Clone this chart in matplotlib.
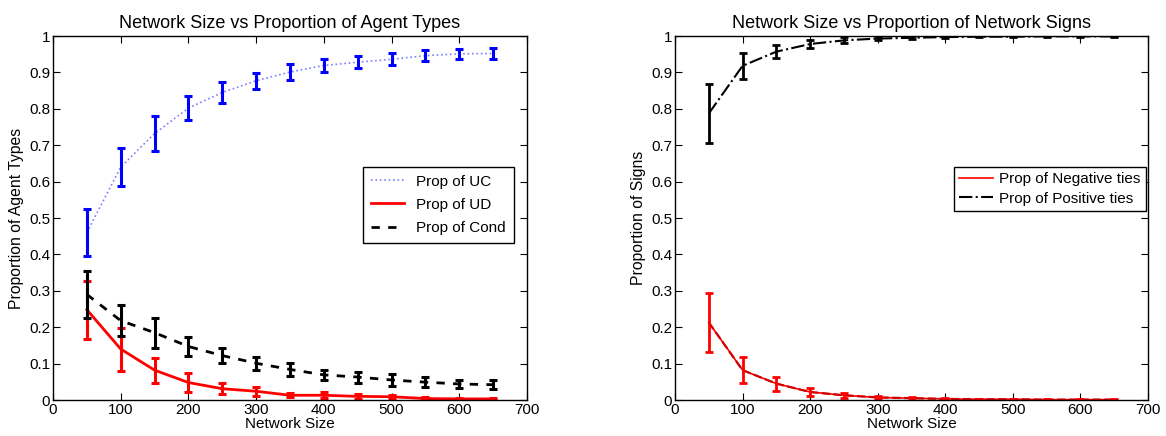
import matplotlib
matplotlib.use("Agg")
import matplotlib.pyplot as plt
from matplotlib.ticker import FuncFormatter

plt.rcParams["font.family"] = ["Liberation Sans", "DejaVu Sans"]

network_size = [50, 100, 150, 200, 250, 300, 350, 400, 450, 500, 550, 600, 650]

uc_mean = [0.46, 0.64, 0.732, 0.802, 0.845, 0.877, 0.901, 0.919, 0.928, 0.936, 0.946, 0.951, 0.952]
uc_err = [0.064, 0.053, 0.049, 0.032, 0.028, 0.022, 0.022, 0.017, 0.017, 0.016, 0.015, 0.013, 0.014]
ud_mean = [0.248, 0.14, 0.082, 0.048, 0.031, 0.024, 0.013, 0.013, 0.01, 0.009, 0.004, 0.003, 0.003]
ud_err = [0.08, 0.059, 0.034, 0.025, 0.015, 0.013, 0.006, 0.008, 0.006, 0.006, 0.003, 0.002, 0.002]
cond_mean = [0.29, 0.218, 0.185, 0.147, 0.122, 0.101, 0.084, 0.069, 0.063, 0.055, 0.049, 0.044, 0.042]
cond_err = [0.065, 0.043, 0.041, 0.025, 0.02, 0.018, 0.018, 0.013, 0.015, 0.016, 0.013, 0.01, 0.013]

pos_mean = [0.787, 0.918, 0.957, 0.978, 0.988, 0.993, 0.995, 0.997, 0.998, 0.998, 0.999, 0.999, 0.999]
pos_err = [0.08, 0.036, 0.018, 0.012, 0.008, 0.005, 0.004, 0.003, 0.002, 0.002, 0.002, 0.001, 0.001]
neg_mean = [0.213, 0.082, 0.045, 0.022, 0.013, 0.007, 0.005, 0.003, 0.002, 0.002, 0.001, 0.001, 0.001]
neg_err = [0.08, 0.036, 0.019, 0.01, 0.007, 0.004, 0.004, 0.003, 0.002, 0.002, 0.001, 0.001, 0.001]

y_ticks = [0, 0.1, 0.2, 0.3, 0.4, 0.5, 0.6, 0.7, 0.8, 0.9, 1]
x_ticks = [0, 100, 200, 300, 400, 500, 600, 700]


def style_axes(ax):
    ax.set_xlim(0, 700)
    ax.set_ylim(0, 1)
    ax.set_xticks(x_ticks)
    ax.set_yticks(y_ticks)
    ax.yaxis.set_major_formatter(FuncFormatter(lambda v, p: "%g" % v))
    ax.tick_params(direction="in", top=True, right=True, labelsize=11, length=5, pad=2)
    for s in ax.spines.values():
        s.set_linewidth(1.0)


fig = plt.figure(figsize=(11.66, 4.36), dpi=100)
ax1 = fig.add_axes([53 / 1166, 36 / 436, 474 / 1166, 364 / 436])
ax2 = fig.add_axes([675 / 1166, 36 / 436, 473 / 1166, 364 / 436])

# left: agent types
ax1.plot(network_size, uc_mean, ":", color="#7f7fff", lw=1.2, label="Prop of UC")
ax1.errorbar(network_size, uc_mean, yerr=uc_err, fmt="none", ecolor="blue",
             elinewidth=2.2, capsize=3, capthick=2.2)
ax1.plot(network_size, ud_mean, "-", color="red", lw=2, label="Prop of UD")
ax1.errorbar(network_size, ud_mean, yerr=ud_err, fmt="none", ecolor="red",
             elinewidth=2.2, capsize=3, capthick=2.2)
ax1.plot(network_size, cond_mean, "--", color="black", lw=2, dashes=(3, 3), label="Prop of Cond")
ax1.errorbar(network_size, cond_mean, yerr=cond_err, fmt="none", ecolor="black",
             elinewidth=2.2, capsize=3, capthick=2.2)
style_axes(ax1)
ax1.set_title("Network Size vs Proportion of Agent Types", fontsize=13, pad=6)
ax1.set_xlabel("Network Size", fontsize=11, labelpad=0.5)
ax1.set_ylabel("Proportion of Agent Types", fontsize=11.3)
leg1 = ax1.legend(loc="upper left", bbox_to_anchor=(0.654, 0.64), fontsize=11,
                  fancybox=False, edgecolor="black", framealpha=1, handlelength=2.2,
                  borderpad=0.5, labelspacing=0.6, borderaxespad=0)
leg1.get_frame().set_linewidth(1.0)

# right: network signs
ax2.plot(network_size, neg_mean, "-", color="red", lw=1.2, label="Prop of Negative ties")
ax2.plot(network_size, neg_mean, "--", color="#d00000", lw=1.6)
ax2.errorbar(network_size, neg_mean, yerr=neg_err, fmt="none", ecolor="red",
             elinewidth=2, capsize=3, capthick=2)
ax2.plot(network_size, pos_mean, "-.", color="black", lw=1.5, label="Prop of Positive ties")
ax2.errorbar(network_size, pos_mean, yerr=pos_err, fmt="none", ecolor="black",
             elinewidth=2, capsize=3, capthick=2)
style_axes(ax2)
ax2.set_title("Network Size vs Proportion of Network Signs", fontsize=13, pad=6)
ax2.set_xlabel("Network Size", fontsize=11, labelpad=0.5)
ax2.set_ylabel("Proportion of Signs", fontsize=11.3)
leg2 = ax2.legend(loc="upper right", bbox_to_anchor=(0.995, 0.64), fontsize=11,
                  fancybox=False, edgecolor="black", framealpha=1, handlelength=2.2,
                  borderpad=0.35, labelspacing=0.35, borderaxespad=0, handletextpad=0.4)
leg2.get_frame().set_linewidth(1.0)

fig.savefig("out.png", dpi=100)
